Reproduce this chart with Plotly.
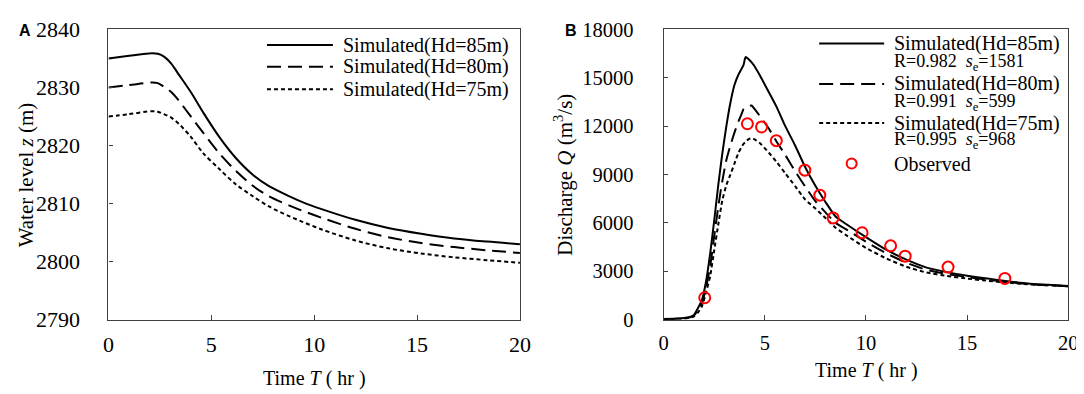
import plotly.graph_objects as go

# ---------------- Panel A: water level ----------------
t_a = [0, 1, 2.1, 2.4, 2.7, 3.05, 3.4, 4.0, 4.6, 5.4, 6.2, 7.0, 7.8, 8.8, 9.4, 10.4, 12.0, 13.6, 15.2, 16.8, 18.4, 20]
z_85 = [2835.0, 2835.45, 2835.9, 2835.8, 2835.3, 2834.1, 2832.3, 2829.2, 2825.7, 2821.4, 2817.8, 2815.0,
        2813.0, 2811.25, 2810.3, 2809.0, 2807.2, 2805.8, 2804.8, 2804.0, 2803.45, 2803.0]
z_80 = [2830.0, 2830.4, 2830.85, 2830.75, 2830.1, 2829.2, 2827.8, 2825.0, 2822.2, 2818.6, 2815.6, 2813.1,
        2811.25, 2809.65, 2808.8, 2807.5, 2805.65, 2804.2, 2803.2, 2802.5, 2801.95, 2801.5]
z_75 = [2825.0, 2825.4, 2825.9, 2825.8, 2825.4, 2824.8, 2823.8, 2821.5, 2818.7, 2815.9, 2813.3, 2811.3,
        2809.5, 2807.8, 2806.9, 2805.5, 2803.65, 2802.3, 2801.4, 2800.75, 2800.25, 2799.8]

# ---------------- Panel B: discharge ----------------
t_b = [0, 0.5, 1.0, 1.3, 1.5, 1.7, 1.9, 2.1, 2.3, 2.5, 2.7, 2.9, 3.1, 3.3, 3.5, 3.7, 3.85, 3.95, 4.05,
       4.2, 4.35, 4.5, 4.8, 5.2, 5.6, 6.0, 6.5, 7.0, 7.5, 8.0, 8.5, 9.0, 10.0, 11.0, 12.0, 13.0, 14.0,
       15.0, 16.0, 17.0, 18.0, 19.0, 20.0]
q_85 = [50, 60, 100, 170, 300, 730, 1250, 2400, 4100, 6150, 8350, 10300, 12000, 13450, 14550, 15200,
        15550, 15800, 16280, 16150, 15950, 15700, 15050, 14100, 13150, 12030, 10800, 9450, 8300, 7300,
        6400, 5950, 5120, 4340, 3720, 3230, 2950, 2730, 2550, 2390, 2250, 2170, 2090]
q_80 = [40, 50, 90, 150, 260, 600, 1050, 2000, 3300, 5200, 7000, 8600, 9900, 10800, 11600, 12300,
        12750, 13050, 13150, 13250, 13280, 13050, 12550, 11850, 11000, 10240, 9200, 8250, 7350, 6650,
        6000, 5620, 4830, 4120, 3530, 3090, 2840, 2640, 2480, 2340, 2210, 2140, 2080]
q_75 = [30, 40, 70, 120, 200, 450, 850, 1700, 2700, 4300, 5900, 7400, 8350, 9000, 9680, 10350,
        10700, 10900, 11020, 11200, 11250, 11180, 10900, 10350, 9750, 9100, 8280, 7450, 6900, 6300,
        5700, 5260, 4450, 3800, 3280, 2920, 2715, 2550, 2415, 2300, 2190, 2130, 2070]

t_obs = [2.03, 4.14, 4.84, 5.57, 6.98, 7.72, 8.38, 9.81, 11.22, 11.94, 14.06, 16.87]
q_obs = [1360, 12150, 11950, 11100, 9270, 7720, 6310, 5390, 4580, 3940, 3260, 2560]

series_names = ["Simulated(Hd=85m)", "Simulated(Hd=80m)", "Simulated(Hd=75m)"]
stats_text = ["R=0.982  <i>s</i><sub>e</sub>=1581", "R=0.991  <i>s</i><sub>e</sub>=599",
              "R=0.995  <i>s</i><sub>e</sub>=968"]
obs_name = "Observed"

x_ticks = [0, 5, 10, 15, 20]
ya_ticks = [2790, 2800, 2810, 2820, 2830, 2840]
yb_ticks = [0, 3000, 6000, 9000, 12000, 15000, 18000]

# ---------------- layout constants (pixels) ----------------
W, H = 1084, 394
SERIF = "Liberation Serif, Times New Roman, serif"
SANS = "Liberation Sans, Arial, sans-serif"
AX = "#404040"
dashes = ["solid", "14px,7px", "4px,3px"]


def px(x):
    return x / W


def py(y):
    return 1 - y / H


fig = go.Figure()

for z, d, n in zip([z_85, z_80, z_75], dashes, series_names):
    fig.add_trace(go.Scatter(x=t_a, y=z, mode="lines", name=n, showlegend=False,
                             line=dict(color="black", width=2, dash=d, shape="spline", smoothing=0.9),
                             xaxis="x", yaxis="y"))

for q, d, n in zip([q_85, q_80, q_75], dashes, series_names):
    fig.add_trace(go.Scatter(x=t_b, y=q, mode="lines", name=n, showlegend=False,
                             line=dict(color="black", width=2, dash=d, shape="spline", smoothing=0.5),
                             xaxis="x2", yaxis="y2"))

fig.add_trace(go.Scatter(x=t_obs, y=q_obs, mode="markers", name=obs_name, showlegend=False,
                         marker=dict(symbol="circle-open", size=11, color="#ff0000",
                                     line=dict(color="#ff0000", width=2)),
                         xaxis="x2", yaxis="y2"))

ydom = [py(320), py(10)]
FONT_A = dict(family=SERIF, size=22, color="black")
FONT_B = dict(family=SERIF, size=20.5, color="black")
common = dict(tickcolor=AX, tickwidth=1.3, showline=True, linecolor=AX, linewidth=1.3, mirror=True,
              showgrid=False, zeroline=False, ticklabeloverflow="allow", ticks="inside")
common_x = dict(range=[0, 20], tickvals=x_ticks, ticktext=[str(v) for v in x_ticks],
                ticklen=5, ticklabelstandoff=5, **common)

fig.update_layout(
    width=W, height=H, margin=dict(l=0, r=0, t=0, b=0),
    paper_bgcolor="white", plot_bgcolor="white", showlegend=False,
    xaxis=dict(domain=[px(96), px(514)], anchor="y", tickfont=FONT_A, **common_x),
    yaxis=dict(domain=ydom, anchor="x", range=[2790, 2840], tickvals=ya_ticks,
               ticktext=[str(v) for v in ya_ticks], ticklen=4, ticklabelstandoff=23,
               tickfont=FONT_A, **common),
    xaxis2=dict(domain=[px(660), px(1071)], anchor="y2", tickfont=FONT_B, **common_x),
    yaxis2=dict(domain=ydom, anchor="x2", range=[0, 18000], tickvals=yb_ticks,
                ticktext=[str(v) for v in yb_ticks], ticklen=4, ticklabelstandoff=25,
                tickfont=FONT_B, **common),
)

ann = []
shapes = []


def text(x, y, s, size=20, xanchor="left", angle=0, family=SERIF, bold=False):
    ann.append(dict(x=px(x), y=py(y), xref="paper", yref="paper", text=(f"<b>{s}</b>" if bold else s),
                    showarrow=False, xanchor=xanchor, yanchor="middle", textangle=angle,
                    font=dict(family=family, size=size, color="black")))


# axis titles
text(305, 383, "Time <i>T</i> ( hr )", 20, "center")
text(866, 374, "Time <i>T</i> ( hr )", 20, "center")
text(12, 165, "Water level <i>z</i> (m)", 21, "center", -90)
text(558, 165, "Discharge <i>Q</i> (m<sup>3</sup>/s)", 21, "center", -90)

# panel labels
text(3, 11, "A", 16, "left", family=SANS, bold=True)
text(558, 11, "B", 16, "left", family=SANS, bold=True)

# legend A
for i, (d, n) in enumerate(zip(dashes, series_names)):
    yy = [26.7, 50, 74][i]
    shapes.append(dict(type="line", xref="paper", yref="paper", x0=px(257), x1=px(324),
                       y0=py(yy), y1=py(yy), line=dict(color="black", width=2, dash=d)))
    text(332, yy, n, 20)

# legend B
for i, (d, n, s) in enumerate(zip(dashes, series_names, stats_text)):
    yy = [25, 68.3, 110][i]
    ys = [45, 88, 128.5][i]
    shapes.append(dict(type="line", xref="paper", yref="paper", x0=px(818), x1=px(884),
                       y0=py(yy), y1=py(yy), line=dict(color="black", width=2, dash=d)))
    text(892, yy, n, 20)
    text(892, ys, s, 18)

shapes.append(dict(type="circle", xref="paper", yref="paper", xsizemode="pixel", ysizemode="pixel",
                   xanchor=px(851), yanchor=py(153.3), x0=-5, x1=5, y0=-5, y1=5,
                   line=dict(color="#ff0000", width=2)))
text(892, 153.3, obs_name, 20)

fig.update_layout(annotations=ann, shapes=shapes)
fig.write_html("out.html")
